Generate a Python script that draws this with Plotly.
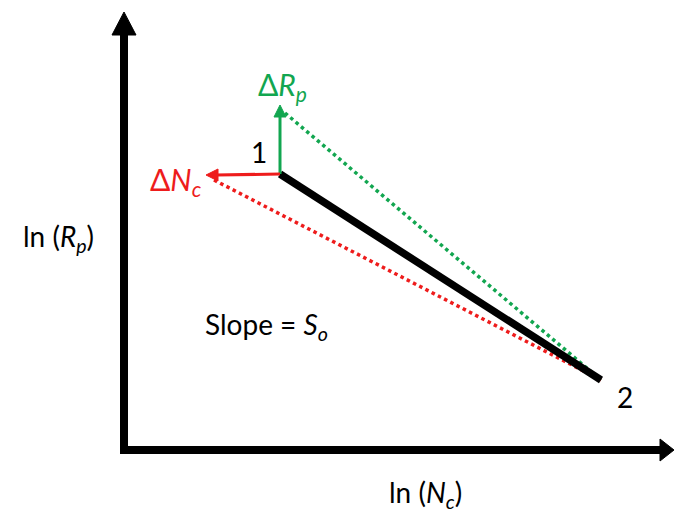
import plotly.graph_objects as go

# Schematic coordinates (pixel-like units, y measured downward)
origin = (124, 450)
y_axis_top = 12
x_axis_right = 674
point1 = (280, 174)
point2 = (601, 380)
dRp_tip = (280, 105)
dNc_tip = (206, 175)
green_dot_start = (285, 113)
red_dot_start = (214, 180)

labels_text = ["1", "2", "Slope = <i>S</i><sub><i>o</i></sub>",
               "ln (<i>R</i><sub><i>p</i></sub>)", "ln (<i>N</i><sub><i>c</i></sub>)"]
labels_pos = [(259, 152), (625, 397), (266, 326), (58, 238), (425, 494)]

GREEN = "#12a650"
RED = "#ee1c1c"
FONT = "Lato, 'Open Sans', sans-serif"

fig = go.Figure()

def line(p, q, color, width, dash="solid"):
    fig.add_trace(go.Scatter(x=[p[0], q[0]], y=[p[1], q[1]], mode="lines",
                             line=dict(color=color, width=width, dash=dash),
                             hoverinfo="skip", showlegend=False))

def head(pts, color):
    xs = [p[0] for p in pts] + [pts[0][0]]
    ys = [p[1] for p in pts] + [pts[0][1]]
    fig.add_trace(go.Scatter(x=xs, y=ys, mode="lines", fill="toself",
                             fillcolor=color, line=dict(color=color, width=1),
                             hoverinfo="skip", showlegend=False))

# dotted lines
line(green_dot_start, point2, GREEN, 3.5, "dot")
line(red_dot_start, point2, RED, 3.5, "dot")
# main black segment
line(point1, point2, "black", 7.5)

# axes
line((origin[0], origin[1] + 4), (origin[0], y_axis_top + 20), "black", 8)
head([(origin[0], y_axis_top), (origin[0] - 12, y_axis_top + 23),
      (origin[0] + 12, y_axis_top + 23)], "black")
line((origin[0] - 4, origin[1]), (x_axis_right - 14, origin[1]), "black", 8)
head([(x_axis_right, origin[1]), (x_axis_right - 14, origin[1] - 11),
      (x_axis_right - 14, origin[1] + 11)], "black")

# delta arrows
line(point1, (dRp_tip[0], dRp_tip[1] + 10), GREEN, 3)
head([dRp_tip, (dRp_tip[0] - 6, dRp_tip[1] + 12), (dRp_tip[0] + 6, dRp_tip[1] + 12)], GREEN)
line(point1, (dNc_tip[0] + 10, dNc_tip[1]), RED, 3)
head([dNc_tip, (dNc_tip[0] + 12, dNc_tip[1] - 6), (dNc_tip[0] + 12, dNc_tip[1] + 6)], RED)

for t, (x, y) in zip(labels_text, labels_pos):
    fig.add_annotation(x=x, y=y, text=t, showarrow=False,
                       font=dict(family=FONT, size=28, color="black"))
fig.add_annotation(x=282, y=86, text="Δ<i>R</i><sub><i>p</i></sub>", showarrow=False,
                   font=dict(family=FONT, size=30, color=GREEN))
fig.add_annotation(x=176, y=181, text="Δ<i>N</i><sub><i>c</i></sub>", showarrow=False,
                   font=dict(family=FONT, size=30, color=RED))

fig.update_layout(width=674, height=517, margin=dict(l=0, r=0, t=0, b=0),
                  plot_bgcolor="white", paper_bgcolor="white",
                  xaxis=dict(range=[0, 674], visible=False, fixedrange=True),
                  yaxis=dict(range=[517, 0], visible=False, fixedrange=True))
fig.write_html("out.html")
